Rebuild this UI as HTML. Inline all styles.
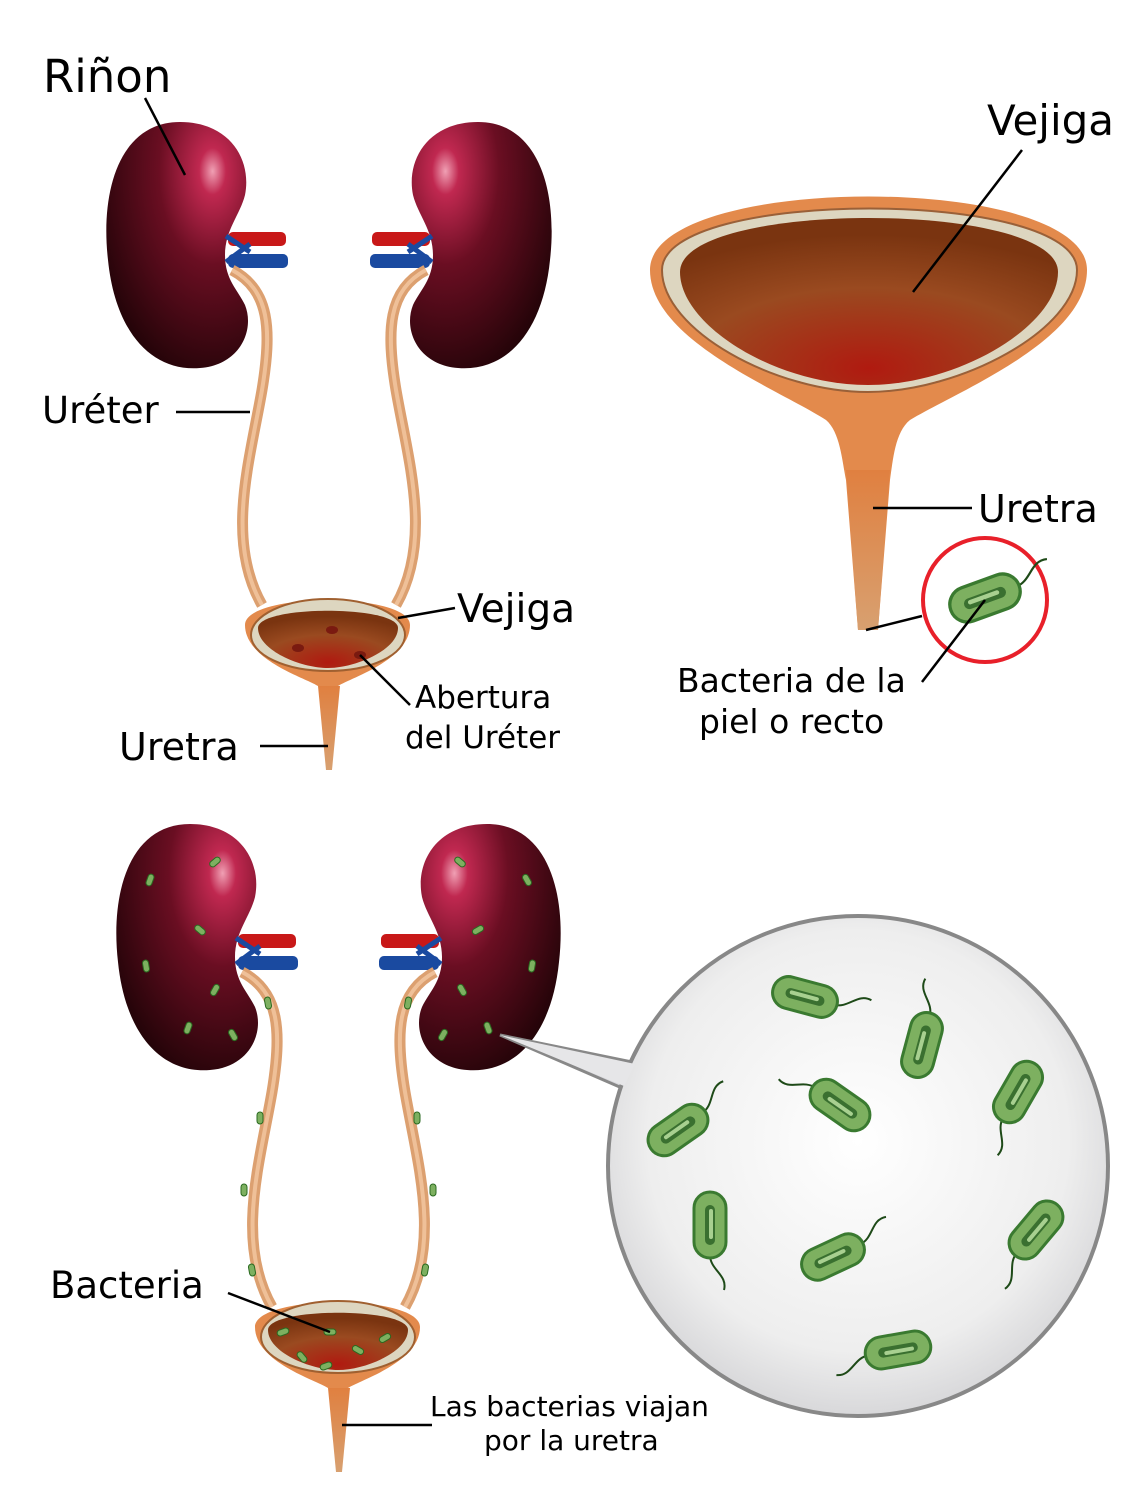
<!DOCTYPE html>
<html><head><meta charset="utf-8"><style>
html,body{margin:0;padding:0;background:#fff}
svg{display:block}
text{font-family:"DejaVu Sans","Liberation Sans",sans-serif;fill:#000}
</style></head><body>
<svg width="1145" height="1500" viewBox="0 0 1145 1500" xmlns="http://www.w3.org/2000/svg">
<defs>
<radialGradient id="kid" cx="0.75" cy="0.2" r="0.95">
<stop offset="0" stop-color="#f0a0b4"/><stop offset="0.1" stop-color="#c02850"/><stop offset="0.4" stop-color="#6a0e22"/><stop offset="1" stop-color="#180204"/>
</radialGradient>
<radialGradient id="blad" cx="0.5" cy="0.9" r="0.8">
<stop offset="0" stop-color="#b01a10"/><stop offset="0.6" stop-color="#9a4a20"/><stop offset="1" stop-color="#7a3410"/>
</radialGradient>
<linearGradient id="ure" x1="0" y1="0" x2="0" y2="1">
<stop offset="0" stop-color="#e08040"/><stop offset="1" stop-color="#d8a070"/>
</linearGradient>
<radialGradient id="circ" cx="0.5" cy="0.45" r="0.6">
<stop offset="0" stop-color="#ffffff"/><stop offset="0.7" stop-color="#eeeeee"/><stop offset="1" stop-color="#cfcfd2"/>
</radialGradient>
<path id="kpath" d="M180,122 C120,122 100,190 108,260 C115,330 150,372 200,368 C240,365 255,330 245,305 C238,290 225,280 225,255 C225,230 240,215 245,195 C252,160 230,122 180,122 Z"/>
<g id="kidney">
<use href="#kpath" fill="url(#kid)"/>
<rect x="228" y="232" width="58" height="14" rx="5" fill="#c81818"/>
<rect x="228" y="254" width="60" height="14" rx="5" fill="#1a4aa0"/>
<path d="M226,236 L250,252 M226,262 L250,244" stroke="#1a4aa0" stroke-width="5"/>
<path d="M232,270 C270,290 272,330 262,390 C250,460 225,540 262,605" fill="none" stroke="#dca070" stroke-width="11"/>
<path d="M232,270 C270,290 272,330 262,390 C250,460 225,540 262,605" fill="none" stroke="#efc098" stroke-width="4"/>
</g>
<g id="bac">
<path d="M30,0 C45,0 50,-18 65,-14" fill="none" stroke="#1e4a18" stroke-width="2"/>
<rect x="-33" y="-16" width="66" height="32" rx="16" fill="#7db060" stroke="#3a7a30" stroke-width="3"/>
<rect x="-20" y="-5" width="40" height="10" rx="5" fill="#3a7030"/>
<rect x="-16" y="-3" width="30" height="4" rx="2" fill="#a8d090"/>
</g>
<g id="sbac">
<rect x="-6" y="-3" width="12" height="6" rx="3" fill="#7db060" stroke="#2a6a20" stroke-width="1"/>
</g>
<g id="smallbladder">
<path d="M245,625 C245,592 410,592 410,625 C410,660 350,678 338,686 L318,686 C306,678 245,660 245,625Z" fill="#e38a4c"/>
<ellipse cx="328" cy="635" rx="77" ry="36" fill="#ddd6c0" stroke="#a06030" stroke-width="2"/>
<path d="M258,628 C258,605 398,605 398,628 C398,650 355,668 328,668 C300,668 258,650 258,628Z" fill="url(#blad)"/>
<polygon points="318,686 340,686 332,770 326,770" fill="url(#ure)"/>
</g>
</defs>

<use href="#kidney"/>
<use href="#kidney" transform="translate(658,0) scale(-1,1)"/>
<use href="#smallbladder"/>
<ellipse cx="298" cy="648" rx="6" ry="4" fill="#7a1a10"/>
<ellipse cx="332" cy="630" rx="6" ry="4" fill="#7a1a10"/>
<ellipse cx="360" cy="655" rx="6" ry="4" fill="#7a1a10"/>

<g stroke="#000" stroke-width="2.5" fill="none">
<line x1="145" y1="98" x2="185" y2="175"/>
<line x1="176" y1="412" x2="250" y2="412"/>
<line x1="398" y1="618" x2="455" y2="608"/>
<line x1="360" y1="655" x2="410" y2="705"/>
<line x1="260" y1="746" x2="328" y2="746"/>
</g>
<text x="43" y="92" font-size="45">Riñon</text>
<text x="42" y="423" font-size="37">Uréter</text>
<text x="457" y="622" font-size="39">Vejiga</text>
<text x="415" y="708" font-size="31">Abertura</text>
<text x="405" y="748" font-size="31">del Uréter</text>
<text x="119" y="760" font-size="38">Uretra</text>

<path d="M650,270 C650,172 1087,172 1087,270 C1087,340 960,390 910,420 C895,432 893,460 890,480 L878,630 L858,630 L846,480 C842,460 840,432 826,420 C780,390 650,340 650,270Z" fill="#e38a4c"/>
<polygon points="846,470 890,470 878,630 858,630" fill="url(#ure)"/>
<path d="M662,270 C662,188 1077,188 1077,270 C1077,330 960,392 868,392 C775,392 662,330 662,270Z" fill="#ddd6c0" stroke="#9a6038" stroke-width="2"/>
<path d="M680,272 C680,200 1058,200 1058,272 C1058,325 960,385 868,385 C775,385 680,325 680,272Z" fill="url(#blad)"/>
<circle cx="985" cy="600" r="62" fill="none" stroke="#e8202a" stroke-width="4"/>
<use href="#bac" transform="translate(985,598) rotate(-20) scale(1.1)"/>
<g stroke="#000" stroke-width="2.5" fill="none">
<line x1="1022" y1="150" x2="913" y2="292"/>
<line x1="873" y1="508" x2="972" y2="508"/>
<line x1="866" y1="630" x2="922" y2="616"/>
<line x1="985" y1="600" x2="922" y2="682"/>
</g>
<text x="987" y="135" font-size="42">Vejiga</text>
<text x="978" y="522" font-size="38">Uretra</text>
<text x="677" y="692" font-size="33">Bacteria de la</text>
<text x="699" y="733" font-size="33">piel o recto</text>

<use href="#kidney" transform="translate(10,702)"/>
<use href="#kidney" transform="translate(667,702) scale(-1,1)"/>
<g transform="translate(10,702)"><use href="#smallbladder"/></g>
<g>
<use href="#sbac" transform="translate(150,880) rotate(-70)"/>
<use href="#sbac" transform="translate(215,862) rotate(-40)"/>
<use href="#sbac" transform="translate(200,930) rotate(40)"/>
<use href="#sbac" transform="translate(146,966) rotate(80)"/>
<use href="#sbac" transform="translate(215,990) rotate(-60)"/>
<use href="#sbac" transform="translate(188,1028) rotate(-70)"/>
<use href="#sbac" transform="translate(233,1035) rotate(60)"/>
<use href="#sbac" transform="translate(268,1003) rotate(80)"/>
<use href="#sbac" transform="translate(460,862) rotate(40)"/>
<use href="#sbac" transform="translate(527,880) rotate(60)"/>
<use href="#sbac" transform="translate(478,930) rotate(-30)"/>
<use href="#sbac" transform="translate(532,966) rotate(-80)"/>
<use href="#sbac" transform="translate(462,990) rotate(60)"/>
<use href="#sbac" transform="translate(488,1028) rotate(70)"/>
<use href="#sbac" transform="translate(443,1035) rotate(-60)"/>
<use href="#sbac" transform="translate(408,1003) rotate(-80)"/>
<use href="#sbac" transform="translate(260,1118) rotate(90)"/>
<use href="#sbac" transform="translate(244,1190) rotate(90)"/>
<use href="#sbac" transform="translate(252,1270) rotate(80)"/>
<use href="#sbac" transform="translate(417,1118) rotate(90)"/>
<use href="#sbac" transform="translate(433,1190) rotate(90)"/>
<use href="#sbac" transform="translate(425,1270) rotate(100)"/>
<use href="#sbac" transform="translate(283,1332) rotate(-20)"/>
<use href="#sbac" transform="translate(302,1357) rotate(50)"/>
<use href="#sbac" transform="translate(330,1332) rotate(0)"/>
<use href="#sbac" transform="translate(358,1350) rotate(30)"/>
<use href="#sbac" transform="translate(385,1338) rotate(-30)"/>
<use href="#sbac" transform="translate(326,1366) rotate(-20)"/>
</g>
<path d="M500,1035 L632,1062 L622,1088 Z" fill="#d8d8dc" stroke="#888" stroke-width="3"/>
<circle cx="858" cy="1166" r="250" fill="url(#circ)" stroke="#888" stroke-width="4"/>
<path d="M500,1035 L635,1064 L624,1086 Z" fill="#e6e6e8"/>
<use href="#bac" transform="translate(805,997) rotate(15)"/>
<use href="#bac" transform="translate(922,1045) rotate(-75)"/>
<use href="#bac" transform="translate(678,1130) rotate(-35)"/>
<use href="#bac" transform="translate(840,1105) rotate(35) scale(-1,-1)"/>
<use href="#bac" transform="translate(1018,1092) rotate(-60) scale(-1,-1)"/>
<use href="#bac" transform="translate(710,1225) rotate(90)"/>
<use href="#bac" transform="translate(833,1257) rotate(-25)"/>
<use href="#bac" transform="translate(1036,1230) rotate(-50) scale(-1,-1)"/>
<use href="#bac" transform="translate(898,1350) rotate(-10) scale(-1,-1)"/>

<g stroke="#000" stroke-width="2.5" fill="none">
<line x1="228" y1="1293" x2="330" y2="1332"/>
<line x1="342" y1="1425" x2="432" y2="1425"/>
</g>
<text x="50" y="1298" font-size="37">Bacteria</text>
<text x="430" y="1416" font-size="28">Las bacterias viajan</text>
<text x="484" y="1450" font-size="28">por la uretra</text>
</svg>
</body></html>
